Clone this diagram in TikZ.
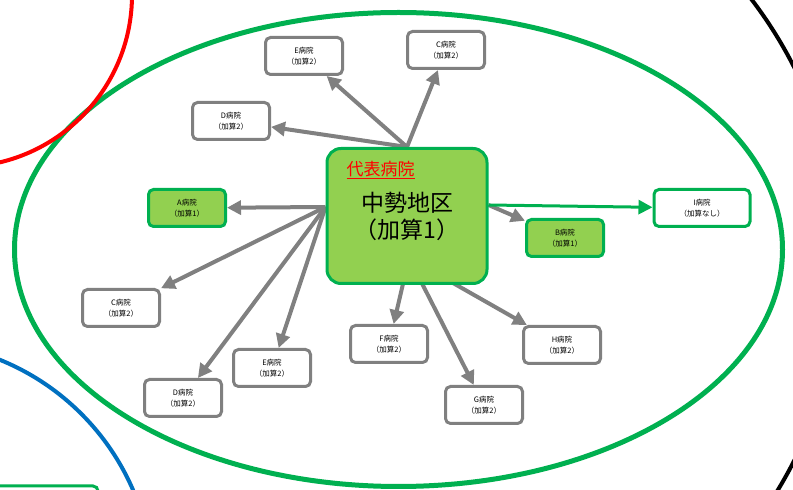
\documentclass[tikz,border=0pt]{standalone}
\usepackage{fontspec}
\newfontfamily\jpfont{Noto Sans CJK JP}
\usetikzlibrary{arrows.meta}
\usetikzlibrary{backgrounds}
\definecolor{hgreen}{HTML}{00B050}
\definecolor{hlime}{HTML}{92D050}
\definecolor{hgray}{HTML}{808080}
\definecolor{hblue}{HTML}{0070C0}
\tikzset{
 hosp/.style={draw=hgray, line width=3pt, rounded corners=5pt, fill=white, minimum width=77pt, minimum height=37pt, inner sep=0pt, align=center, font=\jpfont\fontsize{7.5}{10.5}\selectfont},
 hospA/.style={hosp, draw=hgreen, fill=hlime},
 link/.style={hgray, line width=4pt, -{Triangle[length=14pt,width=14pt]}},
}

\begin{document}
\begin{tikzpicture} [x=1pt, y=1pt]
\useasboundingbox (0,0) rectangle (793,490);
\begin{scope}
\clip (0,0) rectangle (793,490);
\draw[hgreen, line width=5pt] (398.5,240.5) ellipse [x radius=384, y radius=237];
\draw[red, line width=4pt] (-40,495) circle [radius=172];
\draw[hblue, line width=4pt] (-92,-97) circle [radius=245];
\draw[black, line width=4pt] (405,226) ++(-35:436) arc[start angle=-35, end angle=40, radius=436];
\draw[hgreen, line width=3pt, rounded corners=5pt] (-20,-20) rectangle (98,4);
\end{scope}
\node[draw=hgreen, fill=hlime, line width=3pt, rounded corners=14pt, minimum width=160pt, minimum height=135pt, align=center, font=\jpfont\fontsize{23}{27}\selectfont] (hub) at (407,274) {中勢地区\\（加算1）};
\node[text=red, anchor=west, inner sep=0pt, font=\jpfont\fontsize{17}{20}\selectfont] (rep) at ([xshift=21pt, yshift=-23pt]hub.north west) {\underline{代表病院}};
\coordinate (hubN) at (hub.north);
\coordinate (hubW) at ([yshift=9pt]hub.west);
\coordinate (hubS) at ([shift={(2pt,27pt)}]hub.south);
\coordinate (hubE) at ([yshift=11pt]hub.east);
\foreach \nm/\x/\y/\lab in {Etop/304/434/E, Ctop/446/440/C, Dtop/231/369/D, Cl/121/182/C, Db/183/92/D, Eb/272/122/E, F/389/146/F, G/484/85/G, H/562/145/H}
 \node[hosp] (\nm) at (\x,\y) {\lab 病院\\（加算2）};
\node[hospA] (A) at (187,282) {A病院\\（加算1）};
\node[hospA] (B) at (565,252) {B病院\\（加算1）};
\node[hosp, draw=hgreen, minimum width=96pt] (I) at (702,282) {I病院\\（加算なし）};
\begin{scope}[on background layer]
\foreach \src/\dst in {hubN/Etop, hubN/Ctop, hubN/Dtop, hubW/A, hubW/Cl, hubW/Db, hubW/Eb, hubS/F, hubS/G, hubS/H, hubE/B}
 \draw[link] (\src) -- (\dst);
\draw[link, hgreen, line width=3pt] (hubE) -- (I);
\end{scope}
\end{tikzpicture}
\end{document}
